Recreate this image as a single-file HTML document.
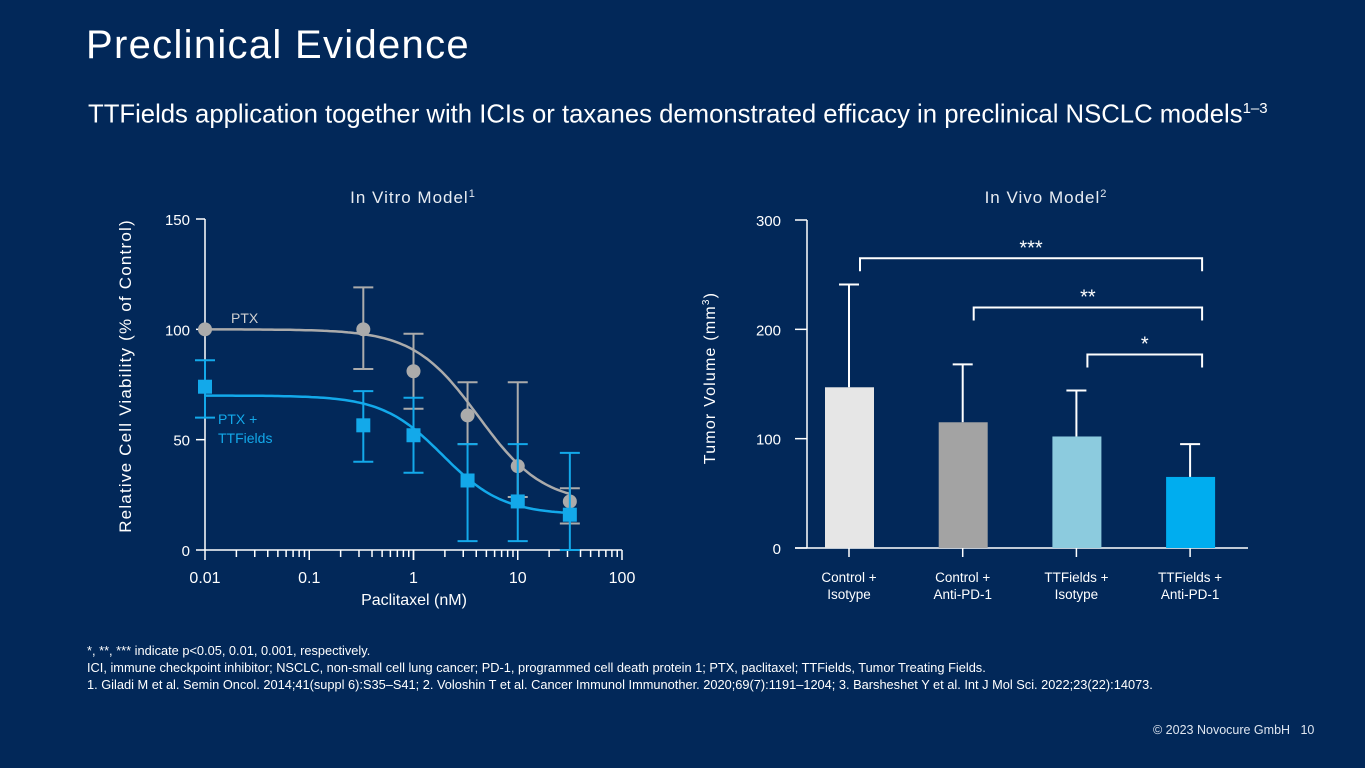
<!DOCTYPE html>
<html><head><meta charset="utf-8">
<style>
html,body{margin:0;padding:0}
body{width:1365px;height:768px;background:#022859;overflow:hidden;position:relative;font-family:"Liberation Sans",sans-serif;color:#fff}
.t{position:absolute;white-space:nowrap}
</style></head>
<body>
<div class="t" style="left:86px;top:23px;font-size:40px;letter-spacing:1.3px">Preclinical Evidence</div>
<div class="t" style="left:88px;top:100px;font-size:25.7px">TTFields application together with ICIs or taxanes demonstrated efficacy in preclinical NSCLC models<sup style="font-size:15px">1–3</sup></div>
<svg id="chart" width="1365" height="768" style="position:absolute;left:0;top:0" font-family="Liberation Sans, sans-serif"></svg>
<div class="t" style="left:87px;top:643px;font-size:12.8px">*, **, *** indicate p&lt;0.05, 0.01, 0.001, respectively.</div>
<div class="t" style="left:87px;top:660px;font-size:12.8px">ICI, immune checkpoint inhibitor; NSCLC, non-small cell lung cancer; PD-1, programmed cell death protein 1; PTX, paclitaxel; TTFields, Tumor Treating Fields.</div>
<div class="t" style="left:87px;top:677px;font-size:12.8px">1. Giladi M et al. Semin Oncol. 2014;41(suppl 6):S35–S41; 2. Voloshin T et al. Cancer Immunol Immunother. 2020;69(7):1191–1204; 3. Barsheshet Y et al. Int J Mol Sci. 2022;23(22):14073.</div>
<div class="t" style="left:1153px;top:723px;font-size:12.5px;color:#dfe6f0">© 2023 Novocure GmbH&nbsp;&nbsp;&nbsp;10</div>
<script>
// In vitro data
const doses = [0.01, 0.33, 1, 3.3, 10, 31.6];
const ptxMean = [100, 100, 81, 61, 38, 22];
const ptxLow = [100, 82, 64, 48, 24, 12];
const ptxHigh = [100, 119, 98, 76, 76, 28];
const ttfMean = [74, 56.5, 52, 31.5, 22, 16];
const ttfLow = [60, 40, 35, 4, 4, 0];
const ttfHigh = [86, 72, 69, 48, 48, 44];
const ptxFit = [100, 21, 4.2, 1.4];   // top, bottom, ic50, hill
const ttfFit = [70, 16, 1.9, 1.5];
const xTicks = [0.01, 0.1, 1, 10, 100];
const xTickLabels = ["0.01", "0.1", "1", "10", "100"];
const yTicks = [0, 50, 100, 150];
// In vivo data
const groups = ["Control +|Isotype", "Control +|Anti-PD-1", "TTFields +|Isotype", "TTFields +|Anti-PD-1"];
const volumes = [147, 115, 102, 65];
const volErr = [241, 168, 144, 95];
const barColors = ["#e6e6e6", "#a3a3a3", "#8ccbde", "#00adef"];
const vTicks = [0, 100, 200, 300];
const sigPairs = [[0, 3, 265, "***"], [1, 3, 220, "**"], [2, 3, 177, "*"]];

const svg = document.getElementById('chart');
const NS = 'http://www.w3.org/2000/svg';
function mk(tag, attrs, parent) {
  const e = document.createElementNS(NS, tag);
  for (const k in attrs) e.setAttribute(k, attrs[k]);
  (parent || svg).appendChild(e);
  return e;
}
function txt(x, y, s, size, fill, anchor, parent) {
  const t = mk('text', {x: x, y: y, 'font-size': size, fill: fill, 'text-anchor': anchor || 'middle'}, parent);
  t.textContent = s;
  return t;
}
// ---- left chart
const X = v => 205 + (Math.log10(v) + 2) * 104.25;
const Y = v => 550 - v * (331 / 150);
const L = mk('g', {});


const lt = txt(413, 203, 'In Vitro Model', 17, '#e8ecf2', 'middle', L);
lt.setAttribute('letter-spacing', '1');


const ls = mk('tspan', {'font-size': 11, dy: -6}, lt); ls.textContent = '1';
mk('line', {x1: 205, y1: Y(150), x2: 205, y2: 550, stroke: '#fff', 'stroke-width': 1.5}, L);
mk('line', {x1: 205, y1: 550, x2: 622, y2: 550, stroke: '#fff', 'stroke-width': 1.5}, L);
yTicks.forEach(v => {
  mk('line', {x1: 196, y1: Y(v), x2: 205, y2: Y(v), stroke: '#fff', 'stroke-width': 1.5}, L);
  txt(190, Y(v) + 6, String(v), 15, '#fff', 'end', L);
});
for (let d = -2; d < 2; d++) for (let m = 1; m <= 10; m++) {
  const v = m * Math.pow(10, d);
  const major = m === 1 || m === 10;
  mk('line', {x1: X(v), y1: 550, x2: X(v), y2: major ? 560 : 557, stroke: '#fff', 'stroke-width': 1.5}, L);
}
xTicks.forEach((v, i) => txt(X(v), 583, xTickLabels[i], 16, '#fff', 'middle', L));
const xl = txt(414, 605, 'Paclitaxel (nM)', 16, '#fff', 'middle', L);
 
const yl = txt(0, 0, 'Relative Cell Viability (% of Control)', 17, '#fff', 'middle', L);
yl.setAttribute('letter-spacing', '1.2');
yl.setAttribute('transform', 'translate(131,376) rotate(-90)');
 
function fitPath(p) {
  let d = '';
  for (let i = 0; i <= 120; i++) {
    const lx = -2 + i * (3.5 / 120), v = Math.pow(10, lx);
    const y = p[1] + (p[0] - p[1]) / (1 + Math.pow(v / p[2], p[3]));
    d += (i ? 'L' : 'M') + X(v).toFixed(1) + ',' + Y(y).toFixed(1);
  }
  return d;
}
function series(mean, lo, hi, fit, col, shape, name) {
  const g = mk('g', {}, L);
  
  
  mk('path', {d: fitPath(fit), fill: 'none', stroke: col, 'stroke-width': 2.5}, g);
  doses.forEach((d, i) => {
    const x = X(d);
    if (hi[i] !== lo[i]) {
      mk('line', {x1: x, y1: Y(lo[i]), x2: x, y2: Y(hi[i]), stroke: col, 'stroke-width': 2}, g);
      [lo[i], hi[i]].forEach(v => mk('line', {x1: x - 10, y1: Y(v), x2: x + 10, y2: Y(v), stroke: col, 'stroke-width': 2}, g));
    }
    const m = shape === 'c' ? mk('circle', {cx: x, cy: Y(mean[i]), r: 7, fill: col}, g)
      : mk('rect', {x: x - 7, y: Y(mean[i]) - 7, width: 14, height: 14, fill: col}, g);
    
    
  });
}
series(ptxMean, ptxLow, ptxHigh, ptxFit, '#ababab', 'c', 'ptx-series');
series(ttfMean, ttfLow, ttfHigh, ttfFit, '#13a9ea', 's', 'ptx-ttfields-series');
const l1 = txt(231, 323, 'PTX', 14, '#d0d0d0', 'start', L);
 
const l2 = txt(218, 424, 'PTX +', 14, '#13a9ea', 'start', L);
 
txt(218, 443, 'TTFields', 14, '#13a9ea', 'start', L);
// ---- right chart
const R = mk('g', {});


const VY = v => 548 - v * (328 / 300);
const BX = i => 849 + i * 113.7;
const rt = txt(1046, 203, 'In Vivo Model', 17, '#e8ecf2', 'middle', R);
rt.setAttribute('letter-spacing', '1');
 
const rs = mk('tspan', {'font-size': 11, dy: -6}, rt); rs.textContent = '2';
mk('line', {x1: 807, y1: VY(300), x2: 807, y2: 548, stroke: '#fff', 'stroke-width': 1.5}, R);
mk('line', {x1: 795, y1: 548, x2: 1248, y2: 548, stroke: '#fff', 'stroke-width': 1.5}, R);
vTicks.forEach(v => {
  mk('line', {x1: 795, y1: VY(v), x2: 807, y2: VY(v), stroke: '#fff', 'stroke-width': 1.5}, R);
  txt(781, VY(v) + 6, String(v), 15, '#fff', 'end', R);
});
const vy = txt(0, 0, 'Tumor Volume (mm', 16, '#fff', 'middle', R);
vy.setAttribute('letter-spacing', '1.2');
const vs = mk('tspan', {'font-size': 10, dy: -6}, vy); vs.textContent = '3';
const vs2 = mk('tspan', {dy: 6}, vy); vs2.textContent = ')';
vy.setAttribute('transform', 'translate(715,378) rotate(-90)');
 
volumes.forEach((v, i) => {
  const x = BX(i);
  mk('line', {x1: x, y1: 548, x2: x, y2: 557, stroke: '#fff', 'stroke-width': 1.5}, R);
  mk('line', {x1: x, y1: VY(volErr[i]), x2: x, y2: VY(v), stroke: '#fff', 'stroke-width': 2}, R);
  mk('line', {x1: x - 10, y1: VY(volErr[i]), x2: x + 10, y2: VY(volErr[i]), stroke: '#fff', 'stroke-width': 2}, R);
  const b = mk('rect', {x: x - 24, y: VY(v), width: 49, height: 548 - VY(v), fill: barColors[i]}, R);
  
  
  groups[i].split('|').forEach((s, k) => txt(x, 582 + k * 17, s, 13.5, '#fff', 'middle', R));
});
sigPairs.forEach(p => {
  const x1 = BX(p[0]) + 11, x2 = BX(p[1]) + 12, y = VY(p[2]);
  const g = mk('path', {d: `M${x1},${y + 13}V${y}H${x2}V${y + 13}`, fill: 'none', stroke: '#fff', 'stroke-width': 2}, R);
  
  
  txt((x1 + x2) / 2, y - 4, p[3], 20, '#fff', 'middle', R);
});
</script>
</body></html>
